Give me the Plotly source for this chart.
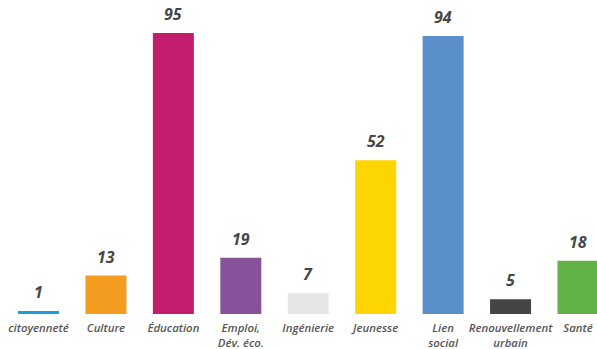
import plotly.graph_objects as go

categories = ["citoyenneté", "Culture", "Éducation", "Emploi,<br>Dév. éco.", "Ingénierie",
              "Jeunesse", "Lien<br>social", "Renouvellement<br>urbain", "Santé"]
values = [1, 13, 95, 19, 7, 52, 94, 5, 18]
colors = ["#1a9fd9", "#f39c1f", "#c21d6f", "#87529a", "#e6e6e6",
          "#fdd500", "#5a8fcc", "#454545", "#62b146"]

fig = go.Figure()
fig.add_trace(go.Bar(
    x=list(range(len(categories))), y=values,
    marker=dict(color=colors, line=dict(width=0)),
    width=0.608, hoverinfo="skip",
))

for i, v in enumerate(values):
    fig.add_annotation(
        x=i, y=v, text=f"<b><i>{v}</i></b>", showarrow=False,
        yanchor="bottom", yshift=6,
        font=dict(family="Open Sans", size=16, color="#474747"),
    )

fig.update_layout(
    width=597, height=349,
    margin=dict(l=0, r=0, t=0, b=35),
    paper_bgcolor="white", plot_bgcolor="white",
    showlegend=False,
    xaxis=dict(
        range=[-0.571, 8.282],
        automargin=False,
        tickmode="array",
        tickvals=list(range(len(categories))),
        ticktext=[f"<i>{c}</i>" for c in categories],
        showgrid=False, zeroline=False, showline=False, ticks="",
        tickfont=dict(family="Open Sans", size=11.4, color="#555555", weight=600),
        ticklabelstandoff=6,
    ),
    yaxis=dict(range=[0, 106.2], visible=False, automargin=False),
)

fig.write_html("out.html", config={"displayModeBar": False},
               post_script="document.body.style.margin='0';document.body.style.overflow='hidden';")
